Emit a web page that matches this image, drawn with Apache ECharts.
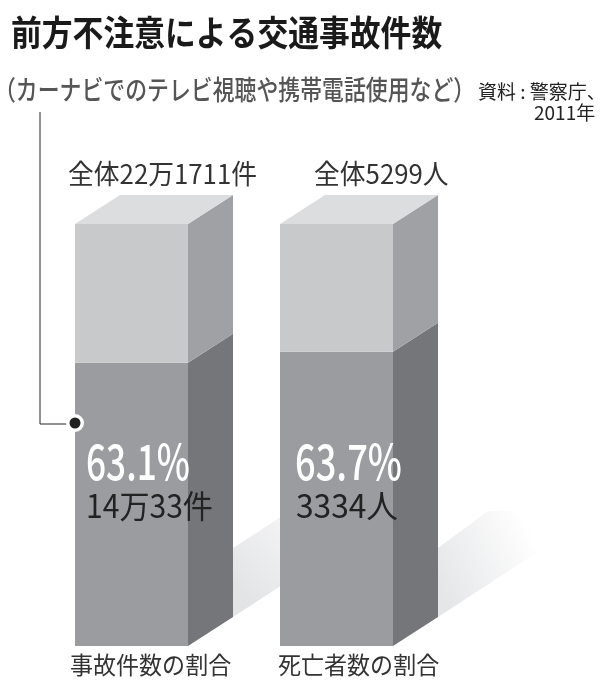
<!DOCTYPE html>
<html>
<head>
<meta charset="utf-8">
<title>前方不注意による交通事故件数</title>
<style>
html, body { margin: 0; padding: 0; background: #fff; }
#main { width: 600px; height: 691px; }
</style>
<script src="https://cdn.jsdelivr.net/npm/echarts@6/dist/echarts.min.js"></script>
</head>
<body>
<div id="main"></div>
<script>
// 데이터
var categories = ['事故件数の割合', '死亡者数の割合'];
var totalLabels = ['全体22万1711件', '全体5299人'];
var shareLabels = ['63.1%', '63.7%'];
var countLabels = ['14万33件', '3334人'];
// height of the dark block as drawn in the picture (not to scale with the printed %)
var drawnShare = [67.1, 69.7];
var drawnTotal = [100, 100];

var FONT = '"Noto Sans CJK JP", "Noto Sans CJK KR", sans-serif';
var DEPTH_X = 45;
var DEPTH_Y = 29;

function poly(points, fill) {
    return { type: 'polygon', shape: { points: points }, style: { fill: fill }, silent: true };
}

function label(text, x, y, size, fill, scaleX, weight) {
    return {
        type: 'text',
        x: x,
        y: y,
        scaleX: scaleX,
        style: {
            text: text,
            x: 0,
            y: 0,
            fontSize: size,
            fontFamily: FONT,
            fontWeight: weight || 'normal',
            fill: fill,
            align: 'left',
            verticalAlign: 'middle'
        }
    };
}

// x offsets of the labels from each bar's left edge
var textOffset = {
    total: [-7, 34],
    share: [11, 15],
    count: [11, 16],
    cat: [-5, -2]
};
var shareScale = [0.72, 0.74];
var countScale = [0.94, 0.99];

function renderBar(params, api) {
    var i = api.value(0);
    var base = api.coord([i, 0]);
    var split = api.coord([i, api.value(1)]);
    var top = api.coord([i, api.value(2)]);
    var w = api.size([1, 0])[0] * 113 / 205;
    var l = base[0] - w / 2;
    var r = l + w;
    var dx = DEPTH_X;
    var dy = DEPTH_Y;
    var sx = r + dx;
    var sb = base[1];
    // floor shadow, the first one runs behind the next bar
    var shadow = {
        type: 'linear', x: 0, y: 0.7, x2: 1, y2: 0.2,
        colorStops: i === 0
            ? [{ offset: 0, color: '#e3e4e6' }, { offset: 1, color: '#f3f3f4' }]
            : [{ offset: 0, color: '#e5e6e8' }, { offset: 0.85, color: '#ffffff' }, { offset: 1, color: '#ffffff' }]
    };
    var shadowPts = i === 0
        ? [[sx, sb - dy], [sx + 60, sb - dy - 39], [sx + 60, sb - 137], [sx, sb - 98]]
        : [[sx, sb - dy], [sx + 115, sb - 104], [sx + 75, sb - 135], [sx + 50, sb - 135], [sx, sb - 98]];
    return {
        type: 'group',
        children: [
            poly(shadowPts, shadow),
            poly([[l, split[1]], [r, split[1]], [r, sb], [l, sb]], '#9b9c9f'),
            poly([[r, split[1]], [sx, split[1] - dy], [sx, sb - dy], [r, sb]], '#757679'),
            poly([[l, top[1]], [r, top[1]], [r, split[1]], [l, split[1]]], '#c8c9cb'),
            poly([[r, top[1]], [sx, top[1] - dy], [sx, split[1] - dy], [r, split[1]]], '#a0a1a4'),
            poly([[l, top[1]], [l + dx, top[1] - dy], [sx, top[1] - dy], [r, top[1]]], '#dcddde'),
            label(totalLabels[i], l + textOffset.total[i], top[1] - 50, 27, '#333333', 0.955),
            label(shareLabels[i], l + textOffset.share[i], 461, 49, '#ffffff', shareScale[i], '500'),
            label(countLabels[i], l + textOffset.count[i], 506, 32, '#222222', countScale[i]),
            label(categories[i], l + textOffset.cat[i], 665, 23.5, '#333333', 0.98)
        ]
    };
}

var rows = categories.map(function (c, i) {
    return [i, drawnShare[i], drawnTotal[i]];
});

var myChart = echarts.init(document.getElementById('main'));
myChart.setOption({
    animation: false,
    backgroundColor: '#ffffff',
    grid: { left: 29, top: 224, width: 410, height: 422 },
    xAxis: { type: 'category', data: categories, show: false },
    yAxis: { type: 'value', min: 0, max: 100, show: false },
    series: [{
        type: 'custom',
        renderItem: renderBar,
        data: rows,
        encode: { x: 0, y: 2 },
        clip: false,
        silent: true
    }],
    graphic: [
        label('前方不注意による交通事故件数', 11, 33, 35, '#1a1a1a', 0.88, 'bold'),
        label('（カーナビでのテレビ視聴や携帯電話使用など）', -6, 90, 27, '#555555', 0.81, '500'),
        label('資料 : 警察庁、', 478, 92, 19, '#222222', 1),
        label('2011年', 534, 113, 19, '#222222', 1),
        {
            type: 'polyline',
            shape: { points: [[40, 112], [40, 424], [70, 424]] },
            style: { stroke: '#222222', lineWidth: 1, fill: null },
            z: 10
        },
        { type: 'circle', shape: { cx: 75, cy: 423, r: 9 }, style: { fill: '#ffffff' }, z: 11 },
        { type: 'circle', shape: { cx: 75, cy: 423, r: 5.5 }, style: { fill: '#222222' }, z: 12 }
    ]
});
</script>
</body>
</html>
